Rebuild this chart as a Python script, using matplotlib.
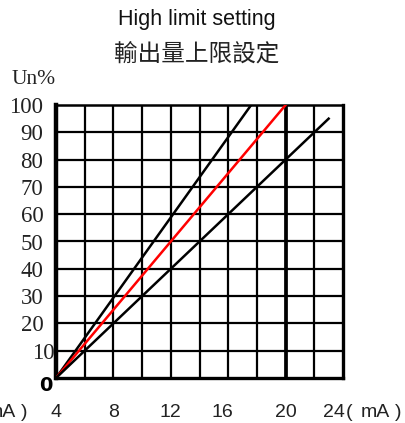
import matplotlib.pyplot as plt
import matplotlib.transforms as mtrans
import numpy as np

# current (mA) vs output (Un%)
line_fast_x = [4, 17.6]
line_fast_y = [0, 100]
line_red_x = [4, 20]
line_red_y = [0, 100]
line_slow_x = [4, 23]
line_slow_y = [0, 95]

x_ticks = [4, 8, 12, 16, 20, 24]
y_ticks = [10, 20, 30, 40, 50, 60, 70, 80, 90, 100]

fig = plt.figure(figsize=(4.05, 4.23), dpi=100)
ax = fig.add_axes([56 / 405, 45 / 423, 287 / 405, 273 / 423])

# grid every 2 mA and every 10 %
for gx in np.arange(6, 24, 2):
    ax.axvline(gx, color="black", lw=1.6 if gx != 20 else 2.7, zorder=1)
for gy in np.arange(10, 100, 10):
    ax.axhline(gy, color="black", lw=1.6, zorder=1)

ax.plot(line_fast_x, line_fast_y, color="black", lw=1.8, zorder=3)
ax.plot(line_red_x, line_red_y, color="red", lw=1.8, zorder=3)
ax.plot(line_slow_x, line_slow_y, color="black", lw=1.8, zorder=3)

ax.set_xlim(4, 24)
ax.set_ylim(0, 100)

ax.spines["left"].set_linewidth(3.2)
ax.spines["bottom"].set_linewidth(2.4)
ax.spines["right"].set_linewidth(2.4)
ax.spines["top"].set_linewidth(1.8)

ax.set_xticks(x_ticks)
ax.set_xticklabels([str(t) for t in x_ticks], family="Liberation Sans",
                   fontsize=14, color="#222222")
ax.set_yticks(y_ticks)
ax.set_yticklabels([str(t) for t in y_ticks], family="Liberation Serif",
                   fontsize=16.5, color="#222222")
ax.tick_params(axis="both", length=0)
ax.tick_params(axis="x", pad=19)
ax.tick_params(axis="y", pad=9)

# hand-placed labels in the original sit a little off their grid lines
nudges_x = {16: -6, 24: -9}
for lab, t in zip(ax.get_xticklabels(), x_ticks):
    if t in nudges_x:
        lab.set_transform(lab.get_transform() +
                          mtrans.ScaledTranslation(nudges_x[t] / 100, 0, fig.dpi_scale_trans))
for lab, t in zip(ax.get_yticklabels(), y_ticks):
    if t == 10:
        lab.set_transform(lab.get_transform() +
                          mtrans.ScaledTranslation(11 / 100, 0, fig.dpi_scale_trans))

# bold zero at the origin
fig.text(46 / 405, 1 - 385 / 423, "0", fontsize=14, fontweight="bold",
         family="DejaVu Sans", ha="center", va="center")

# unit labels (one at the right, one clipped at the left edge)
for off in (0, -374):
    fig.text((349 + off) / 405, 1 - 412 / 423, "(", fontsize=14, family="Liberation Sans",
             ha="center", va="center", color="#222222")
    fig.text((375 + off) / 405, 1 - 412 / 423, "mA", fontsize=14, family="Liberation Sans",
             ha="center", va="center", color="#222222")
    fig.text((398 + off) / 405, 1 - 412 / 423, ")", fontsize=14, family="Liberation Sans",
             ha="center", va="center", color="#222222")
fig.text(34 / 405, 1 - 79 / 423, "Un%", fontsize=15.5, family="Liberation Serif",
         ha="center", va="center", color="#222222")

# title
fig.text(197 / 405, 1 - 20 / 423, "High limit setting", fontsize=15.5,
         family="Liberation Sans", ha="center", va="center", color="#111111")
fig.text(197 / 405, 1 - 54 / 423, "輸出量上限設定", fontsize=17,
         family="Noto Sans CJK TC", ha="center", va="center", color="#222222")

fig.savefig("out.png", dpi=100)
